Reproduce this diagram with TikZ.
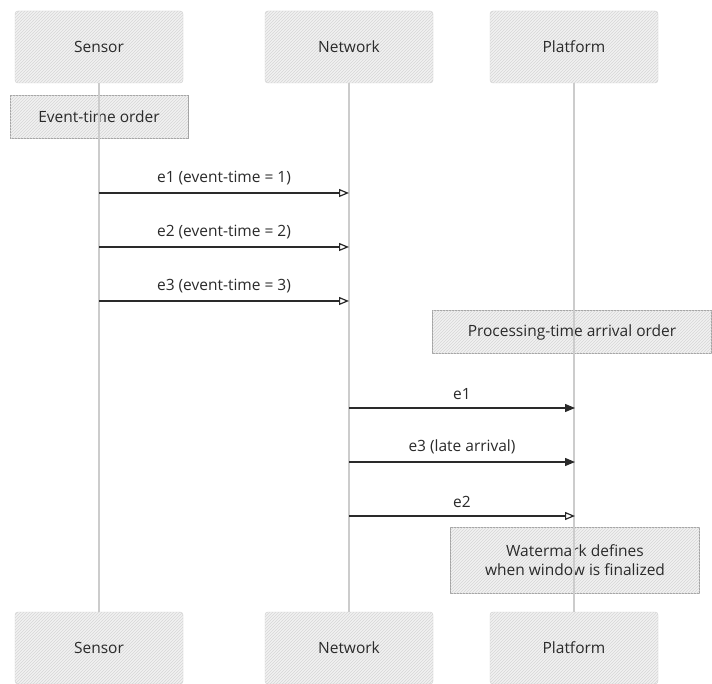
\documentclass[tikz,border=0pt]{standalone}
\usepackage{fontspec}
\setmainfont{Open Sans}
\usetikzlibrary{arrows.meta,patterns,positioning}
\definecolor{inkgray}{HTML}{2A2A2A}
\definecolor{linegray}{HTML}{CCCCCC}
\definecolor{boxgray}{HTML}{F2F2F2}
\definecolor{hatchgray}{HTML}{D6D6D6}
\tikzset{
    x=1pt,y=-1pt,
    hatched/.style={fill=boxgray, postaction={pattern=north east lines, pattern color=hatchgray}},
    actor/.style={draw=linegray, hatched, rounded corners=3pt, minimum width=168pt, minimum height=72pt,
        font=\fontsize{15.5}{19}\selectfont, text=inkgray},
    note/.style={draw=linegray!80!black, hatched, minimum height=43pt, align=center,
        font=\fontsize{15.5}{19}\selectfont, text=inkgray},
    lifeline/.style={draw=linegray, line width=1.2pt},
    msg/.style={draw=inkgray, line width=1.2pt, -{Triangle[open,length=10pt,width=8pt]}},
    msgfill/.style={draw=inkgray, line width=1.2pt, -{Triangle[length=10pt,width=8pt]}},
    lbl/.style={above=4pt, font=\fontsize{15.5}{19}\selectfont, text=inkgray}
}
\begin{document}
\begin{tikzpicture}
    \useasboundingbox (0,0) rectangle (712,684);

    % participants, top row
    \node[actor] (sensorTop) at (99,47) {Sensor};
    \node[actor] (netTop) at (349,47) {Network};
    \node[actor] (platTop) at (574,47) {Platform};

    % participants, bottom row
    \node[actor] (sensorBot) at (99,648) {Sensor};
    \node[actor] (netBot) at (349,648) {Network};
    \node[actor] (platBot) at (574,648) {Platform};

    % notes
    \node[note, minimum width=178pt] (evNote) at (99,117) {Event-time order};
    \node[note, minimum width=279pt] (procNote) at (572,332) {Processing-time arrival order};
    \node[note, minimum width=249pt, minimum height=66pt] (wmNote) at (575,560)
        {Watermark defines\\when window is finalized};

    % lifelines
    \path[lifeline] (sensorTop) -- (sensorBot);
    \path[lifeline] (netTop) -- (netBot);
    \path[lifeline] (platTop) -- (platBot);

    % end points on the lifelines
    \coordinate (s1) at (99,193);
    \coordinate (n1) at (349,193);
    \coordinate (s2) at (99,247);
    \coordinate (n2) at (349,247);
    \coordinate (s3) at (99,301);
    \coordinate (n3) at (349,301);
    \coordinate (n4) at (349,408);
    \coordinate (p4) at (575,408);
    \coordinate (n5) at (349,462);
    \coordinate (p5) at (575,462);
    \coordinate (n6) at (349,516);
    \coordinate (p6) at (575,516);

    % sent in event-time order
    \path[msg] (s1) -- node[lbl] {e1 (event-time = 1)} (n1);
    \path[msg] (s2) -- node[lbl] {e2 (event-time = 2)} (n2);
    \path[msg] (s3) -- node[lbl] {e3 (event-time = 3)} (n3);

    % received in processing-time order
    \path[msgfill] (n4) -- node[lbl] {e1} (p4);
    \path[msgfill] (n5) -- node[lbl] {e3 (late arrival)} (p5);
    \path[msg] (n6) -- node[lbl] {e2} (p6);

\end{tikzpicture}
\end{document}
